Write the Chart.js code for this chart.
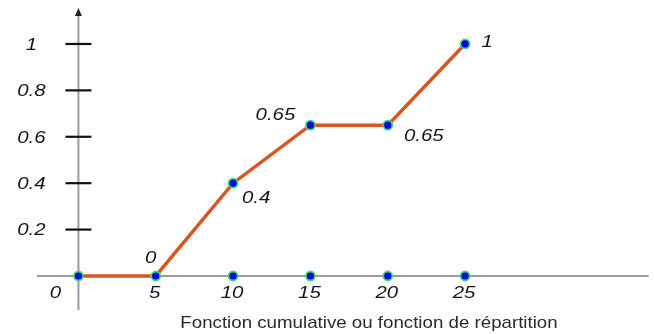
<!DOCTYPE html>
<html>
<head>
<meta charset="utf-8">
<script src="https://cdn.jsdelivr.net/npm/chart.js@4/dist/chart.umd.min.js"></script>
<style>
  body { margin: 0; background: #fff; }
</style>
</head>
<body>
<canvas id="chart" width="655" height="334"></canvas>
<script>
const xValues = [0, 5, 10, 15, 20, 25];
const cumValues = [0, 0, 0.4, 0.65, 0.65, 1];
const axisPoints = [10, 15, 20, 25];
const xTicks = [0, 5, 10, 15, 20, 25];
const yTicks = [0.2, 0.4, 0.6, 0.8, 1];
const pointLabels = ['', '0', '0.4', '0.65', '0.65', '1'];
const title = 'Fonction cumulative ou fonction de répartition';

const labelFont = 'italic 17px "Liberation Sans", Arial, sans-serif';

function stretchText(ctx, text, x, y, sx) {
  ctx.save();
  ctx.translate(x, y);
  ctx.scale(sx, 1);
  ctx.fillText(text, 0, 0);
  ctx.restore();
}

// axes, arrow and tick marks under the data
const axesPlugin = {
  id: 'axesPlugin',
  beforeDatasetsDraw(chart) {
    const ctx = chart.ctx;
    const xs = chart.scales.x, ys = chart.scales.y;
    const x0 = xs.getPixelForValue(0);
    const y0 = ys.getPixelForValue(0);
    const area = chart.chartArea;
    ctx.save();
    ctx.strokeStyle = '#9a9a9a';
    ctx.lineWidth = 2;
    ctx.beginPath();
    ctx.moveTo(area.left, y0);
    ctx.lineTo(area.right, y0);
    ctx.moveTo(x0, area.bottom);
    ctx.lineTo(x0, area.top + 6);
    ctx.stroke();

    ctx.fillStyle = '#222';
    ctx.beginPath();
    ctx.moveTo(x0, area.top);
    ctx.lineTo(x0 - 3.5, area.top + 8);
    ctx.lineTo(x0 + 3.5, area.top + 8);
    ctx.closePath();
    ctx.fill();

    ctx.strokeStyle = '#111';
    ctx.lineWidth = 2.2;
    yTicks.forEach(v => {
      const y = ys.getPixelForValue(v);
      ctx.beginPath();
      ctx.moveTo(x0 - 13, y);
      ctx.lineTo(x0 + 13, y);
      ctx.stroke();
    });
    ctx.restore();
  },
  afterDraw(chart) {
    const ctx = chart.ctx;
    const xs = chart.scales.x, ys = chart.scales.y;
    const x0 = xs.getPixelForValue(0);
    const y0 = ys.getPixelForValue(0);
    ctx.save();
    ctx.fillStyle = '#141420';
    ctx.font = labelFont;
    ctx.textAlign = 'center';
    ctx.textBaseline = 'middle';

    yTicks.forEach(v => {
      stretchText(ctx, String(v), x0 - 47, ys.getPixelForValue(v) + 1, 1.2);
    });

    xTicks.forEach(v => {
      const x = v === 0 ? x0 - 23 : xs.getPixelForValue(v) - 1;
      stretchText(ctx, String(v), x, y0 + 17, 1.2);
    });

    // value labels next to the points
    const offsets = [[0, 0], [-5, -18], [23, 15], [-35, -10], [36, 11], [22, -2]];
    pointLabels.forEach((t, i) => {
      if (!t) return;
      const px = xs.getPixelForValue(xValues[i]);
      const py = ys.getPixelForValue(cumValues[i]);
      stretchText(ctx, t, px + offsets[i][0], py + offsets[i][1], 1.2);
    });

    ctx.font = '17px "Liberation Sans", Arial, sans-serif';
    ctx.fillStyle = '#2a2a2a';
    stretchText(ctx, title, 369, 323, 1.1);
    ctx.restore();
  }
};

const pointStyle = {
  pointRadius: 4.5,
  pointBackgroundColor: '#0000ee',
  pointBorderColor: '#33dd66',
  pointBorderWidth: 1.8
};

new Chart(document.getElementById('chart').getContext('2d'), {
  type: 'scatter',
  data: {
    datasets: [
      Object.assign({
        label: 'F',
        data: xValues.map((x, i) => ({ x: x, y: cumValues[i] })),
        showLine: true,
        borderColor: '#d9561f',
        borderWidth: 3.5,
        order: 1
      }, pointStyle),
      Object.assign({
        label: 'axe',
        data: axisPoints.map(x => ({ x: x, y: 0 })),
        showLine: false,
        order: 2
      }, pointStyle)
    ]
  },
  options: {
    responsive: false,
    animation: false,
    layout: { padding: { left: 37, right: 5, top: 8, bottom: 24 } },
    scales: {
      x: { type: 'linear', display: false, min: -2.677, max: 36.87 },
      y: { type: 'linear', display: false, min: -0.1466, max: 1.155 }
    },
    plugins: {
      legend: { display: false },
      tooltip: { enabled: false }
    }
  },
  plugins: [axesPlugin]
});
</script>
</body>
</html>
